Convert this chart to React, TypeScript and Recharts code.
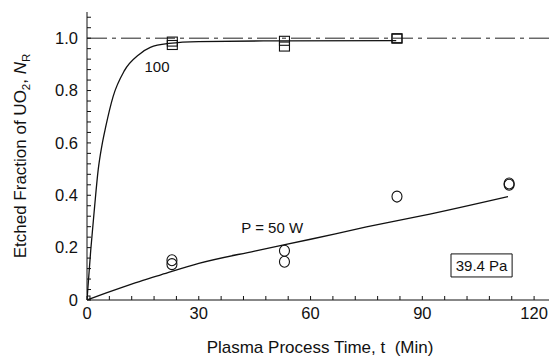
import React from "react";
import {
  ComposedChart,
  Line,
  Scatter,
  XAxis,
  YAxis,
  ReferenceLine,
  ReferenceDot,
  ReferenceArea,
} from "recharts";

// axis ticks
const xMajor = [0, 30, 60, 90, 120];
const xMinor = [0, 6, 12, 18, 24, 30, 36, 42, 48, 54, 60, 66, 72, 78, 84, 90, 96, 102, 108, 114, 120];
const yMajor = [0, 0.2, 0.4, 0.6, 0.8, 1.0];
const yMinor = [
  0, 0.04, 0.08, 0.12, 0.16, 0.2, 0.24, 0.28, 0.32, 0.36, 0.4, 0.44, 0.48, 0.52, 0.56, 0.6,
  0.64, 0.68, 0.72, 0.76, 0.8, 0.84, 0.88, 0.92, 0.96, 1.0, 1.04, 1.08,
];

// measured points
const squares100W = [
  { t: 22.9, n: 0.987 },
  { t: 22.9, n: 0.974 },
  { t: 53, n: 0.99 },
  { t: 53, n: 0.968 },
  { t: 83.2, n: 1.0 },
  { t: 83.2, n: 0.998 },
];
const circles50W = [
  { t: 22.8, n: 0.152 },
  { t: 22.8, n: 0.137 },
  { t: 53, n: 0.188 },
  { t: 53, n: 0.146 },
  { t: 83.2, n: 0.395 },
  { t: 113.3, n: 0.44 },
  { t: 113.3, n: 0.445 },
];
const origin = [{ t: 0, n: 0 }];

// fitted curves
const fit100W = [
  { t: 0, n: 0 },
  { t: 1, n: 0.19 },
  { t: 2, n: 0.35 },
  { t: 3, n: 0.497 },
  { t: 4, n: 0.59 },
  { t: 5, n: 0.66 },
  { t: 7, n: 0.777 },
  { t: 10, n: 0.875 },
  { t: 14, n: 0.938 },
  { t: 17, n: 0.965 },
  { t: 22, n: 0.98 },
  { t: 30, n: 0.987 },
  { t: 53, n: 0.99 },
  { t: 83, n: 0.991 },
];
const fit50W = [
  { t: 0, n: 0 },
  { t: 5, n: 0.026 },
  { t: 10, n: 0.051 },
  { t: 15, n: 0.075 },
  { t: 20, n: 0.097 },
  { t: 30, n: 0.14 },
  { t: 45, n: 0.187 },
  { t: 60, n: 0.232 },
  { t: 75, n: 0.279 },
  { t: 90, n: 0.322 },
  { t: 113, n: 0.395 },
];

const FONT = '"Liberation Sans", Arial, Helvetica, sans-serif';
const INK = "#111";

const near = (list: number[], v: number) => list.some((m) => Math.abs(m - v) < 1e-6);

const SquareMark = (props: any) => {
  const { cx, cy } = props;
  if (cx == null || cy == null) return null;
  return <rect x={cx - 5} y={cy - 4.5} width={10} height={9} fill="none" stroke={INK} strokeWidth={1.1} />;
};

const CircleMark = (props: any) => {
  const { cx, cy } = props;
  if (cx == null || cy == null) return null;
  return <ellipse cx={cx} cy={cy} rx={5} ry={5.5} fill="none" stroke={INK} strokeWidth={1.1} />;
};

const OriginMark = (props: any) => {
  const { cx, cy } = props;
  if (cx == null || cy == null) return null;
  return <rect x={cx - 1} y={cy - 4} width={4} height={4} fill="none" stroke={INK} strokeWidth={1} />;
};

const YTitle = (props: any) => {
  const vb = props.viewBox;
  const cx = vb.x + 26;
  const cy = vb.y + vb.height / 2;
  return (
    <text
      x={cx}
      y={cy}
      transform={`rotate(-90, ${cx}, ${cy})`}
      textAnchor="middle"
      fontFamily={FONT}
      fontSize={17}
      fill={INK}
    >
      Etched Fraction of UO
      <tspan fontSize={11.5} dy="0.35em">2</tspan>
      <tspan dy="-0.25em">, </tspan>
      <tspan fontStyle="italic">N</tspan>
      <tspan fontSize={11.5} dy="0.35em">R</tspan>
    </text>
  );
};

const XTitle = (props: any) => {
  const vb = props.viewBox;
  return (
    <text
      x={vb.x + vb.width / 2 + 2}
      y={vb.y + 53}
      textAnchor="middle"
      fontFamily={FONT}
      fontSize={17}
      fill={INK}
    >
      {"Plasma Process Time, t\u00a0\u00a0(Min)"}
    </text>
  );
};

export default function App() {
  return (
    <div style={{ position: "absolute", left: 0, top: 0, background: "#fff" }}>
      <ComposedChart
        width={549}
        height={358}
        margin={{ top: 12, right: 0, bottom: 0, left: 0 }}
        style={{ fontFamily: FONT }}
      >
        <XAxis
          dataKey="t"
          type="number"
          domain={[0, 124]}
          allowDataOverflow
          ticks={xMinor}
          interval={0}
          tickFormatter={(v: number) => (near(xMajor, v) ? String(v) : "")}
          tickSize={-4}
          tickMargin={11}
          height={58}
          stroke={INK}
          tick={{ fill: INK, fontSize: 16.5, fontFamily: FONT }}
          label={<XTitle />}
        />
        <XAxis
          xAxisId="top"
          orientation="top"
          type="number"
          domain={[0, 124]}
          allowDataOverflow
          ticks={xMinor}
          interval={0}
          tickFormatter={() => ""}
          tickSize={-4}
          height={0}
          stroke={INK}
        />
        <YAxis
          type="number"
          domain={[0, 1.1]}
          allowDataOverflow
          ticks={yMinor}
          interval={0}
          tickFormatter={(v: number) => (near(yMajor, v) ? (v === 0 ? "0" : v.toFixed(1)) : "")}
          tickSize={-4}
          tickMargin={13}
          width={87}
          stroke={INK}
          tick={{ fill: INK, fontSize: 16.5, fontFamily: FONT }}
          label={<YTitle />}
        />
        <ReferenceLine y={1} stroke="#222" strokeWidth={1} strokeDasharray="20 5 4 5" />
        <Line
          data={fit100W}
          dataKey="n"
          type="monotone"
          dot={false}
          stroke={INK}
          strokeWidth={1.3}
          isAnimationActive={false}
        />
        <Line
          data={fit50W}
          dataKey="n"
          type="monotone"
          dot={false}
          stroke={INK}
          strokeWidth={1.3}
          isAnimationActive={false}
        />
        <Scatter data={squares100W} dataKey="n" shape={<SquareMark />} isAnimationActive={false} />
        <Scatter data={circles50W} dataKey="n" shape={<CircleMark />} isAnimationActive={false} />
        <Scatter data={origin} dataKey="n" shape={<OriginMark />} isAnimationActive={false} />
        <ReferenceDot
          x={18.8}
          y={0.89}
          r={0}
          fill="none"
          stroke="none"
          label={{ value: "100", position: "center", fontSize: 15, fill: INK, fontFamily: FONT }}
        />
        <ReferenceDot
          x={49.7}
          y={0.275}
          r={0}
          fill="none"
          stroke="none"
          label={{ value: "P = 50 W", position: "center", fontSize: 15, fill: INK, fontFamily: FONT }}
        />
        <ReferenceArea
          x1={97.7}
          x2={114.1}
          y1={0.088}
          y2={0.176}
          fill="#fff"
          fillOpacity={1}
          stroke={INK}
          strokeWidth={1}
          label={{ value: "39.4 Pa", position: "center", fontSize: 15, fill: INK, fontFamily: FONT }}
        />
      </ComposedChart>
    </div>
  );
}
